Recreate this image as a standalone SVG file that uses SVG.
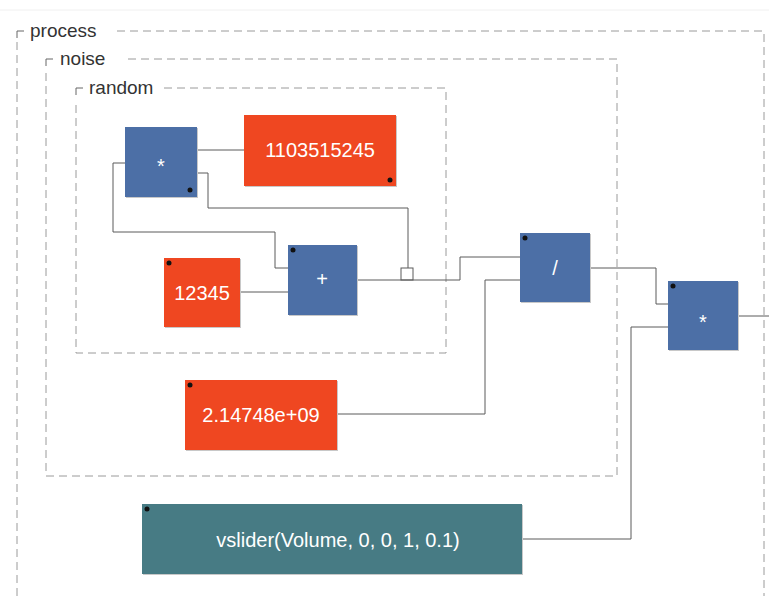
<svg xmlns="http://www.w3.org/2000/svg" width="769" height="596" viewBox="0 0 769 596">
<style>
.grp{fill:none;stroke:#9a9a9a;stroke-width:1;stroke-dasharray:8,5}
.crn{fill:none;stroke:#666;stroke-width:1}
.glab{font-family:"Liberation Sans",Arial,sans-serif;font-size:19px;fill:#333}
.blue{fill:#4c6fa6}
.red{fill:#ef4721}
.teal{fill:#477b84}
.sh{fill:#c8c8c8}
.lab{font-family:"Liberation Sans",Arial,sans-serif;font-size:20px;fill:#fff;text-anchor:middle;dominant-baseline:central}
.dot{fill:#111}
.wire{fill:none;stroke:#5a5a5a;stroke-width:1}
</style>
<rect width="769" height="596" fill="#fff"/>
<line x1="0" y1="10" x2="769" y2="10" stroke="#f0f0f0"/>
<g id="process">
<path class="grp" d="M117,31 H764 V596 M17,596 V42"/>
<path class="crn" d="M17,38 V31 H24"/>
<text class="glab" x="30" y="37">process</text>
</g>
<g id="noise">
<path class="grp" d="M128,59 H617 V476 H46 V70"/>
<path class="crn" d="M46,66 V59 H53"/>
<text class="glab" x="60" y="65">noise</text>
</g>
<g id="random">
<path class="grp" d="M164,88 H446 V353 H76 V100"/>
<path class="crn" d="M76,95 V88 H83"/>
<text class="glab" x="89" y="94">random</text>
</g>
<g id="connectors">
<path class="wire" d="M197,150 H244"/>
<path class="wire" d="M197,173 H208 V208 H408 V268"/>
<rect class="wire" x="401" y="268" width="12" height="12"/>
<path class="wire" d="M125,163 H113 V232 H275 V268 H288"/>
<path class="wire" d="M240,292 H288"/>
<path class="wire" d="M357,280 H460 V257 H520"/>
<path class="wire" d="M337,414 H485 V280 H520"/>
<path class="wire" d="M590,268 H656 V304 H668"/>
<path class="wire" d="M522,539 H631 V327 H668"/>
<path class="wire" d="M738,316 H769"/>
</g>
<g id="mul1">
<rect class="sh" x="126" y="128" width="72" height="70"/>
<rect class="blue" x="125" y="127" width="72" height="70"/>
<circle class="dot" cx="190" cy="190" r="2.5"/>
<text class="lab" x="161" y="166">*</text>
</g>
<g id="c1103515245">
<rect class="sh" x="245" y="116" width="152" height="71"/>
<rect class="red" x="244" y="115" width="152" height="71"/>
<circle class="dot" cx="390" cy="180" r="2.5"/>
<text class="lab" x="320" y="150">1103515245</text>
</g>
<g id="c12345">
<rect class="sh" x="165" y="259" width="76" height="69"/>
<rect class="red" x="164" y="258" width="76" height="69"/>
<circle class="dot" cx="169" cy="263" r="2.5"/>
<text class="lab" x="202" y="293">12345</text>
</g>
<g id="add">
<rect class="sh" x="289" y="246" width="69" height="70"/>
<rect class="blue" x="288" y="245" width="69" height="70"/>
<circle class="dot" cx="293" cy="250" r="2.5"/>
<text class="lab" x="322" y="279">+</text>
</g>
<g id="div">
<rect class="sh" x="521" y="234" width="70" height="69"/>
<rect class="blue" x="520" y="233" width="70" height="69"/>
<circle class="dot" cx="525" cy="238" r="2.5"/>
<text class="lab" x="555" y="268">/</text>
</g>
<g id="mul2">
<rect class="sh" x="669" y="282" width="70" height="69"/>
<rect class="blue" x="668" y="281" width="70" height="69"/>
<circle class="dot" cx="673" cy="286" r="2.5"/>
<text class="lab" x="703" y="322">*</text>
</g>
<g id="c2_14748e09">
<rect class="sh" x="186" y="381" width="152" height="70"/>
<rect class="red" x="185" y="380" width="152" height="70"/>
<circle class="dot" cx="190" cy="385" r="2.5"/>
<text class="lab" x="261" y="415">2.14748e+09</text>
</g>
<g id="vslider">
<rect class="sh" x="143" y="505" width="380" height="70"/>
<rect class="teal" x="142" y="504" width="380" height="70"/>
<circle class="dot" cx="147" cy="509" r="2.5"/>
<text class="lab" x="338" y="540">vslider(Volume, 0, 0, 1, 0.1)</text>
</g>
</svg>
